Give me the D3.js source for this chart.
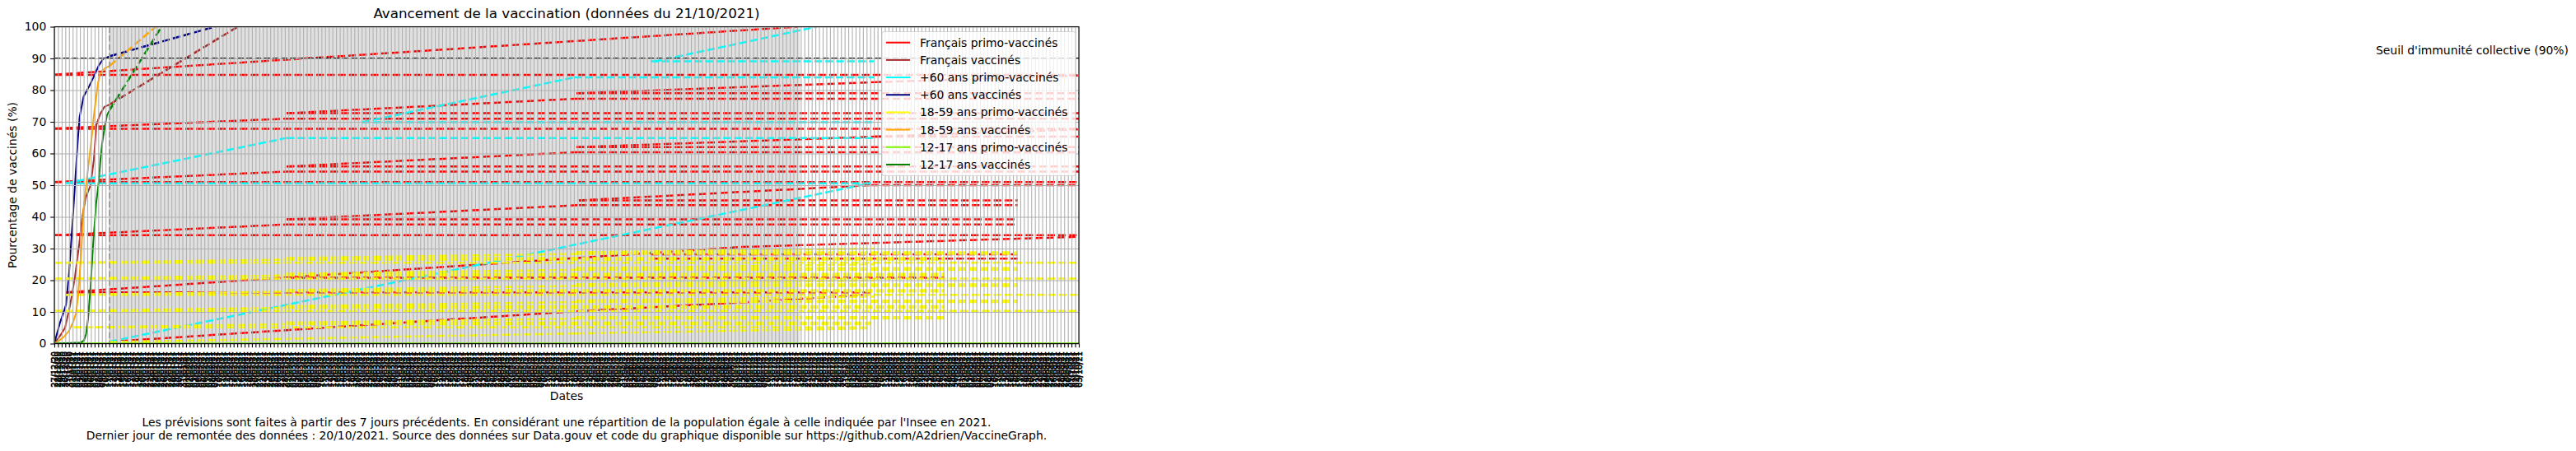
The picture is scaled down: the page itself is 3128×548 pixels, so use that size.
<!DOCTYPE html>
<html><head><meta charset="utf-8">
<script src="https://cdn.jsdelivr.net/npm/d3@7"></script>
<style>
body{margin:0;background:#fff}
svg{display:block}
text{font-family:"DejaVu Sans",sans-serif;fill:#000}
</style>
</head><body>
<svg id="chart" width="3128" height="548"></svg>
<script>
// ---------------- DATA ----------------
const title = "Avancement de la vaccination (données du 21/10/2021)";
const yLabel = "Pourcentage de vaccinés (%)";
const xLabel = "Dates";
const thresholdLabel = "Seuil d'immunité collective (90%)";
const footLines = [
  "Les prévisions sont faites à partir des 7 jours précédents. En considérant une répartition de la population égale à celle indiquée par l'Insee en 2021.",
  "Dernier jour de remontée des données : 20/10/2021. Source des données sur Data.gouv et code du graphique disponible sur https://github.com/A2drien/VaccineGraph."
];
const seriesNames = ["Français primo-vaccinés","Français vaccinés","+60 ans primo-vaccinés","+60 ans vaccinés",
  "18-59 ans primo-vaccinés","18-59 ans vaccinés","12-17 ans primo-vaccinés","12-17 ans vaccinés"];
const yTicks = [0,10,20,30,40,50,60,70,80,90,100];
const threshold = 90;
const tickCount = 281;
const tickStartDate = "2020-12-27";
const tickStepDays = 1;
const todayIndex = 15.1;
const projectionSpanEnd = 203.7;

// historic curves: [tick index, %]
const histFrVacc = [[0,0],[1.58,2.5],[2.93,5],[4.28,12],[5.63,21],[6.75,31],[7.65,40],[8.55,46],[9.9,50],[10.8,58],[11.48,69],[12.54,72.5],[13.66,74.7],[15.15,75.5]];
const hist60Vacc = [[0,0],[0.45,2],[1.6,6.8],[2.7,10.5],[3.2,12.3],[4.0,22],[4.9,37],[5.8,53],[6.4,64],[6.9,71.5],[8.0,78],[9.5,81.2],[10.6,83.8],[12.1,87.7],[13.3,89.8],[15.15,90.7]];
const hist1859Vacc = [[0,0],[1.35,1],[2.5,2],[4.0,4],[5.2,7],[5.9,9.5],[6.5,15],[7.4,29.7],[8.0,42.6],[8.8,51.3],[9.4,57],[10.3,66],[10.8,72],[11.4,77.3],[11.9,82],[12.5,85.1],[13.7,86.8],[15.15,87.7]];
const hist1217Vacc = [[0,0],[7.2,0.3],[8.1,1],[8.67,3],[9.23,8],[9.9,18],[10.58,31],[11.41,44],[12.15,51.3],[12.6,58],[13.05,63],[13.66,67.7],[14.4,72.1],[15.15,73.8]];
const hist1217Primo = [[0,0.15],[280,0.15]];

// projections of the "vaccinés" series: [tick index, %]
const projFrVacc = [[15.15,75.5],[50.4,100.2]];
const proj60Vacc = [[15.15,90.7],[44.4,100.2]];
const proj1859Vacc = [[15.15,87.7],[27.9,100.2]];
const proj1217Vacc = [[15.15,73.8],[29.4,100.2]];

// projection segments of the "primo" series: [i0, %0, i1, %1]
const projFrPrimo = [
  [0,84.8,280,84.8],[0,84.9,203.2,100],
  [0,67.8,280,67.8],[0,67.9,63.5,71.0],[63.5,71.0,280,71.0],[63.5,72.7,280,72.7],[63.5,72.7,142.7,77.3],
  [142.7,77.3,280,77.3],[142.7,79.0,280,79.0],[142.7,79.0,224,82.5],[224,82.5,280,84.6],
  [0,51.0,280,51.0],[0,51.0,63.5,54.3],[63.5,54.3,280,54.3],[63.5,55.9,280,55.9],[63.5,55.9,142.7,60.4],
  [142.7,60.4,280,60.4],[142.7,62.0,280,62.0],[142.7,62.0,224,65.3],[224,65.3,280,65.3],[224,65.3,280,67.6],
  [0,34.2,280,34.2],[0,34.2,63.5,37.6],[63.5,37.6,263.3,37.6],[63.5,39.2,263.3,39.2],[63.5,39.2,143.4,43.7],
  [143.4,43.7,263.3,43.7],[143.4,45.2,263.3,45.2],[143.4,45.2,223.3,50.0],[223.3,50.0,280,50.0],
  [3.2,16.2,223.3,16.2],[3.2,16.2,187.7,30.5],[187.7,30.5,280,33.7],[63.5,20.8,243.3,20.8],
  [163,28.2,263.3,28.2],[163,26.8,263.3,26.8],
  [15.1,0.6,142.7,10.2],[142.7,10.2,187.7,13.0],[187.7,13.0,223.3,15.5]
];
const proj60Primo = [
  [15.1,0.6,223.3,50.7],[3.2,50.6,223.3,50.6],[3.2,50.6,63.5,64.9],[63.5,64.9,224,64.9],
  [84.2,69.9,224,69.9],[84.2,69.9,142,84.0],[142,84.0,224,84.0],[163,89.1,224,89.1],[163.9,89.0,208.4,100]
];
const proj1859Primo = [
  [0,25.5,280,25.5],[0,25.5,63.5,26.5],[63.5,26.5,243.3,26.5],[63.5,27.0,243.3,27.0],[63.5,27.0,142.7,28.3],[142.7,28.3,263.3,28.3],[142.7,28.8,263.3,28.8],[142.7,28.8,224,30.0],
  [0,20.5,280,20.5],[0,20.5,63.5,21.5],[63.5,21.5,243.3,21.5],[63.5,22.0,243.3,22.0],[63.5,22.0,142.7,23.3],[142.7,23.3,263.3,23.3],[142.7,23.8,263.3,23.8],[142.7,23.8,224,25.0],
  [3.2,15.4,280,15.4],[3.2,15.4,63.5,16.4],[63.5,16.4,243.3,16.4],[63.5,16.9,243.3,16.9],[63.5,16.9,142.7,18.2],[142.7,18.2,263.3,18.2],[142.7,18.7,263.3,18.7],[142.7,18.7,224,19.9],
  [0,10.3,280,10.3],[0,10.3,63.5,11.3],[63.5,11.3,243.3,11.3],[63.5,11.8,243.3,11.8],[63.5,11.8,142.7,13.1],[142.7,13.1,263.3,13.1],[142.7,13.6,263.3,13.6],[142.7,13.6,224,14.8],
  [5.4,5.1,223.3,5.1],[5.4,5.1,63.5,6.1],[63.5,6.1,223.3,6.1],[63.5,6.6,223.3,6.6],[63.5,6.6,142.7,7.9],[142.7,7.9,243.3,7.9],[142.7,8.4,243.3,8.4],
  [15.1,0.5,142.7,3.2],[142.7,3.2,223.3,4.8]
];

// ---------------- STYLE ----------------
const colors = ["#ff0000","#a52a2a","#00ffff","#000080","#ffff00","#ffa500","#7cfc00","#008000"];
const W = 3128, H = 548;
const M = {left:66, right:1310, top:32.5, bottom:417.5};
const FS = 13.9;
const TICK_FS = 9.7;

const tickLabels = d3.range(tickCount).map(i =>
  d3.timeFormat("%d/%m/%y")(d3.timeDay.offset(d3.timeParse("%Y-%m-%d")(tickStartDate), i*tickStepDays)));

const svg = d3.select("#chart");
svg.append("rect").attr("width",W).attr("height",H).attr("fill","#fff");

const x = d3.scaleLinear().domain([0, tickCount-1]).range([M.left, M.right]);
const y = d3.scaleLinear().domain([0,100]).range([M.bottom, M.top]);

svg.append("defs").append("clipPath").attr("id","clip")
  .append("rect").attr("x",M.left).attr("y",M.top).attr("width",M.right-M.left).attr("height",M.bottom-M.top);

const plot = svg.append("g").attr("clip-path","url(#clip)");
plot.append("rect").attr("x",x(todayIndex)).attr("y",M.top)
  .attr("width",x(projectionSpanEnd)-x(todayIndex)).attr("height",M.bottom-M.top).attr("fill","#e0e0e0");

const gx = svg.append("g").attr("transform",`translate(0,${M.bottom})`)
  .call(d3.axisBottom(x).tickValues(d3.range(tickCount)).tickSize(-(M.bottom-M.top)).tickFormat(""));
gx.select(".domain").remove();
gx.selectAll("line").attr("stroke","#b0b0b0").attr("stroke-width",1.1);
const gy = svg.append("g").attr("transform",`translate(${M.left},0)`)
  .call(d3.axisLeft(y).tickValues(yTicks).tickSize(-(M.right-M.left)).tickFormat(""));
gy.select(".domain").remove();
gy.selectAll("line").attr("stroke","#b0b0b0").attr("stroke-width",1.1);

const line = d3.line().x(d=>x(d[0])).y(d=>y(d[1]));
const DASH = "9.25,4";
function segs(arr, color){
  plot.append("g").selectAll("path").data(arr).join("path")
    .attr("d", d => line([[d[0],d[1]],[d[2],d[3]]]))
    .attr("fill","none").attr("stroke",color).attr("stroke-width",2.5).attr("stroke-dasharray",DASH);
}
function curve(pts, color, dashed, w){
  plot.append("path").attr("d", line(pts)).attr("fill","none").attr("stroke",color)
    .attr("stroke-width", w || 2).attr("stroke-dasharray", dashed ? DASH : null)
    .attr("stroke-linejoin","round");
}

segs(projFrPrimo, colors[0]);
curve(histFrVacc, colors[1]); curve(projFrVacc, colors[1], true, 2.5);
segs(proj60Primo, colors[2]);
curve(hist60Vacc, colors[3]); curve(proj60Vacc, colors[3], true, 2.5);
segs(proj1859Primo, colors[4]);
curve(hist1859Vacc, colors[5]); curve(proj1859Vacc, colors[5], true, 2.5);
curve(hist1217Primo, colors[6]);
curve(hist1217Vacc, colors[7]); curve(proj1217Vacc, colors[7], true, 2.5);

plot.append("path").attr("d", line([[0,threshold],[tickCount-1,threshold]]))
  .attr("stroke","#000").attr("stroke-width",2).attr("stroke-dasharray","7.4,3.2");
plot.append("path").attr("d", d3.line()([[x(todayIndex),M.top],[x(todayIndex),M.bottom]]))
  .attr("stroke","#888").attr("stroke-width",2).attr("stroke-dasharray","7.4,3.2");

svg.append("rect").attr("x",M.left).attr("y",M.top).attr("width",M.right-M.left).attr("height",M.bottom-M.top)
  .attr("fill","none").attr("stroke","#000").attr("stroke-width",1.1);

const ay = svg.append("g").attr("transform",`translate(${M.left},0)`)
  .call(d3.axisLeft(y).tickValues(yTicks).tickSize(4.86).tickPadding(4.86));
ay.select(".domain").remove();
ay.selectAll("line").attr("stroke","#000").attr("stroke-width",1.1);
ay.selectAll("text").attr("font-size",FS).attr("font-family","DejaVu Sans").attr("fill","#000");

const ax = svg.append("g").attr("transform",`translate(0,${M.bottom})`)
  .call(d3.axisBottom(x).tickValues(d3.range(tickCount)).tickFormat((d,i)=>tickLabels[i]).tickSize(4.86));
ax.select(".domain").remove();
ax.selectAll("line").attr("stroke","#000").attr("stroke-width",1.1);
ax.selectAll("text").attr("y",null).attr("dy",null).attr("x",null)
  .attr("transform","translate(0,9.7) rotate(-90)").attr("text-anchor","end")
  .attr("dominant-baseline","central").attr("font-size",TICK_FS).attr("font-family","DejaVu Sans")
  .attr("fill","#000").attr("stroke","#000").attr("stroke-width",0.6);

svg.append("text").attr("x",(M.left+M.right)/2).attr("y",22).attr("text-anchor","middle")
  .attr("font-size",16.7).text(title);
svg.append("text").attr("transform",`translate(20,${(M.top+M.bottom)/2}) rotate(-90)`)
  .attr("text-anchor","middle").attr("font-size",FS).text(yLabel);
svg.append("text").attr("x",(M.left+M.right)/2).attr("y",486).attr("text-anchor","middle")
  .attr("font-size",FS).text(xLabel);
svg.append("text").attr("x",2885).attr("y",66).attr("font-size",FS).text(thresholdLabel);
footLines.forEach((t,k)=>{
  svg.append("text").attr("x",(M.left+M.right)/2).attr("y",518+k*16).attr("text-anchor","middle")
    .attr("font-size",FS).text(t);
});

const lg = svg.append("g");
lg.append("rect").attr("x",1071).attr("y",38.5).attr("width",235).attr("height",175).attr("rx",3)
  .attr("fill","#fff").attr("fill-opacity",0.8).attr("stroke","#cccccc").attr("stroke-opacity",0.8).attr("stroke-width",1.1);
seriesNames.forEach((n,k)=>{
  const yy = 51.7 + k*21.18;
  lg.append("line").attr("x1",1076).attr("x2",1105).attr("y1",yy).attr("y2",yy)
    .attr("stroke",colors[k]).attr("stroke-width",2);
  lg.append("text").attr("x",1117).attr("y",yy).attr("dominant-baseline","central")
    .attr("font-size",FS).text(n);
});
</script>
</body></html>
